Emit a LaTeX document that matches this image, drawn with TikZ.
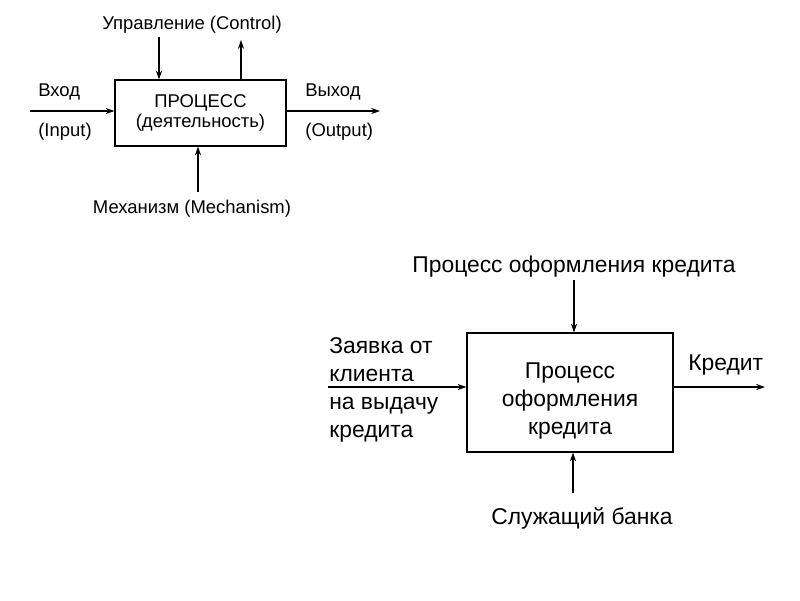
\documentclass[tikz,border=0pt]{standalone}
\usepackage{fontspec}
\setmainfont{Liberation Sans}
\usetikzlibrary{arrows.meta}

\begin{document}
\begin{tikzpicture}[x=0.02cm, y=-0.02cm,
    >={Stealth[length=5pt,width=3.5pt]},
    every node/.style={inner sep=0pt},
    small/.style={font=\fontsize{10.5}{11.5}\selectfont},
    big/.style={font=\fontsize{13}{16}\selectfont},
    flow/.style={->, line width=0.6pt},
    procbox/.style={draw, line width=0.7pt, align=center}
  ]
  \useasboundingbox (0,0) rectangle (800,600);

  % General scheme
  \node[procbox, small, minimum width=3.42cm, minimum height=1.32cm] (proc)
    at (200.5,113) {ПРОЦЕСС\\(деятельность)};

  \node[small] (ctltext) at (192,25) {Управление (Control)};
  \node[small, anchor=west] (intext1) at (38,92) {Вход};
  \node[small, anchor=west] (intext2) at (38,132) {(Input)};
  \node[small, anchor=west] (outtext1) at (305,92) {Выход};
  \node[small, anchor=west] (outtext2) at (305,132) {(Output)};
  \node[small] (mechtext) at (192,209) {Механизм (Mechanism)};

  \coordinate (ctl) at (159,37);
  \coordinate (up) at (241,40);
  \coordinate (in) at (30,111);
  \coordinate (out) at (380,111);
  \coordinate (mech) at (198,192);

  \draw[flow] (ctl) -- (ctl |- proc.north);
  \draw[flow] (up |- proc.north) -- (up);
  \draw[flow] (in) -- (proc.west |- in);
  \draw[flow] (proc.east |- out) -- (out);
  \draw[flow] (mech) -- (mech |- proc.south);

  % Credit example
  \node[procbox, minimum width=4.12cm, minimum height=2.38cm] (credit)
    at (570,392.5) {};
  \node[big, align=center] (credittext) at (570,401)
    {Процесс\\оформления\\кредита};

  \node[big] (ruletext) at (574,267) {Процесс оформления кредита};
  \node[big, anchor=west, align=left] (reqtext) at (329,390)
    {Заявка от\\клиента\\на выдачу\\кредита};
  \node[big, anchor=west] (loantext) at (688,365) {Кредит};
  \node[big] (clerktext) at (582,518) {Служащий банка};

  \coordinate (rule) at (574,280);
  \coordinate (req) at (328,387);
  \coordinate (loan) at (765,387);
  \coordinate (clerk) at (573,493);

  \draw[flow] (rule) -- (rule |- credit.north);
  \draw[flow] (req) -- (credit.west |- req);
  \draw[flow] (credit.east |- loan) -- (loan);
  \draw[flow] (clerk) -- (clerk |- credit.south);
\end{tikzpicture}
\end{document}
